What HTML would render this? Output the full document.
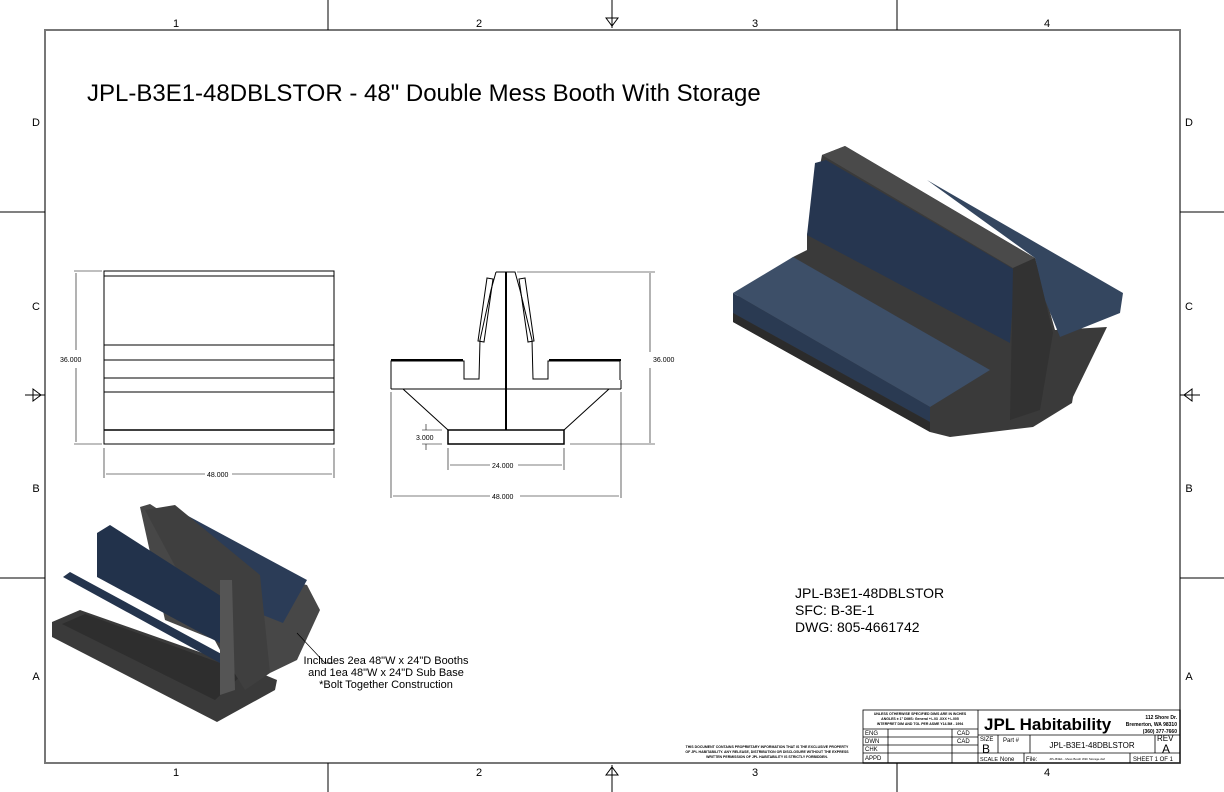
<!DOCTYPE html>
<html><head><meta charset="utf-8"><style>
html,body{margin:0;padding:0;background:#fff}
svg{display:block}
text{font-family:"Liberation Sans",sans-serif}
</style></head><body>
<svg width="1224" height="792" viewBox="0 0 1224 792" xmlns="http://www.w3.org/2000/svg">
<rect x="0" y="0" width="1224" height="792" fill="#fff"/>
<rect x="45" y="30" width="1135" height="733" fill="none" stroke="#777" stroke-width="2"/>
<g stroke="#000" stroke-width="1">
<line x1="328" y1="0" x2="328" y2="30"/><line x1="897" y1="0" x2="897" y2="30"/>
<line x1="328" y1="763" x2="328" y2="792"/><line x1="897" y1="763" x2="897" y2="792"/>
<line x1="612" y1="0" x2="612" y2="28"/><line x1="612" y1="765" x2="612" y2="792"/>
<line x1="0" y1="212" x2="45" y2="212"/><line x1="0" y1="578" x2="45" y2="578"/>
<line x1="1180" y1="212" x2="1224" y2="212"/><line x1="1180" y1="578" x2="1224" y2="578"/>
<line x1="25" y1="395" x2="45" y2="395"/><line x1="1180" y1="395" x2="1200" y2="395"/>
</g>
<g fill="none" stroke="#000"><path d="M606 18 L612 26 L618 18 Z"/><path d="M606 775 L612 767 L618 775 Z"/>
<path d="M33 389 L41 395 L33 401 Z"/><path d="M1192 389 L1184 395 L1192 401 Z"/></g>
<g font-size="11" fill="#000" text-anchor="middle">
<text x="176" y="27">1</text><text x="479" y="27">2</text><text x="755" y="27">3</text><text x="1047" y="27">4</text>
<text x="176" y="776">1</text><text x="479" y="776">2</text><text x="755" y="776">3</text><text x="1047" y="776">4</text>
<text x="36" y="126">D</text><text x="36" y="310">C</text><text x="36" y="492">B</text><text x="36" y="680">A</text>
<text x="1189" y="126">D</text><text x="1189" y="310">C</text><text x="1189" y="492">B</text><text x="1189" y="680">A</text>
</g>
<text x="87" y="101" font-size="24">JPL-B3E1-48DBLSTOR - 48" Double Mess Booth With Storage</text>

<g stroke="#000" fill="none" stroke-width="1">
<rect x="104" y="271" width="230" height="173"/>
<line x1="104" y1="276" x2="334" y2="276"/>
<line x1="104" y1="345" x2="334" y2="345"/>
<line x1="104" y1="360" x2="334" y2="360"/>
<line x1="104" y1="378" x2="334" y2="378"/>
<line x1="104" y1="392" x2="334" y2="392"/>
<line x1="104" y1="430" x2="334" y2="430" stroke-width="1.5"/>
</g>
<g stroke="#000" stroke-width="0.6" fill="none">
<line x1="74" y1="271" x2="102" y2="271"/><line x1="74" y1="444" x2="102" y2="444"/>
<line x1="76" y1="273" x2="76" y2="350"/><line x1="76" y1="368" x2="76" y2="442"/>
<line x1="104" y1="448" x2="104" y2="478"/><line x1="334" y1="448" x2="334" y2="478"/>
<line x1="106" y1="474" x2="205" y2="474"/><line x1="232" y1="474" x2="332" y2="474"/>
</g>
<text x="60" y="362" font-size="7">36.000</text>
<text x="207" y="477" font-size="7">48.000</text>

<g stroke="#000" fill="none" stroke-width="1">
<path d="M496 272 L515 272 L520 290 L532 340 L533 379 L548 379 L548 361 L620 361 L620 380"/>
<path d="M496 272 L491 290 L480 340 L479 379 L464 379 L464 361 L391 361 L391 380"/>
<line x1="391" y1="360" x2="463" y2="360" stroke-width="2"/><line x1="549" y1="360" x2="621" y2="360" stroke-width="2"/>
<line x1="391" y1="389" x2="621" y2="389"/>
<line x1="391" y1="380" x2="391" y2="389"/><line x1="621" y1="380" x2="621" y2="389"/>
<path d="M403 389 L448 430 M609 389 L564 430"/>
<rect x="448" y="430" width="116" height="14" stroke-width="1.5"/>
<line x1="506" y1="272" x2="506" y2="430" stroke-width="2"/>
<path d="M487 278 L493 279 L484 342 L478 341 Z"/>
<path d="M525 278 L519 279 L528 342 L534 341 Z"/>
</g>
<g stroke="#000" stroke-width="0.6" fill="none">
<line x1="517" y1="272" x2="655" y2="272"/><line x1="570" y1="444" x2="655" y2="444"/>
<line x1="650" y1="273" x2="650" y2="352"/><line x1="650" y1="368" x2="650" y2="443"/>
<line x1="448" y1="448" x2="448" y2="470"/><line x1="564" y1="448" x2="564" y2="470"/>
<line x1="450" y1="465" x2="490" y2="465"/><line x1="518" y1="465" x2="562" y2="465"/>
<line x1="391" y1="392" x2="391" y2="498"/><line x1="621" y1="392" x2="621" y2="498"/>
<line x1="393" y1="496" x2="490" y2="496"/><line x1="520" y1="496" x2="619" y2="496"/>
<line x1="422" y1="430" x2="442" y2="430"/><line x1="422" y1="444" x2="442" y2="444"/>
<line x1="426" y1="424" x2="426" y2="430"/><line x1="426" y1="444" x2="426" y2="450"/>
</g>
<text x="653" y="362" font-size="7">36.000</text>
<text x="492" y="468" font-size="7">24.000</text>
<text x="492" y="499" font-size="7">48.000</text>
<text x="416" y="440" font-size="7">3.000</text>

<g>
<polygon points="807,235 822,155 845,146 1035,258 1055,330 1107,327 1073,397 1072,403 1033,427 950,437 930,432 733,322 733,300 793,257 807,250" fill="#3a3a3a"/>
<polygon points="927,180 1123,293 1120,313 1060,337 1045,300 1035,258" fill="#34465f"/>
<polygon points="822,155 845,146 1035,258 1013,268" fill="#4a4a4a"/>
<polygon points="815,163 826,160 1015,270 1010,343 807,235" fill="#263650"/>
<polygon points="1013,268 1035,258 1053,333 1040,410 1010,420" fill="#323232"/>
<polygon points="733,293 793,257 990,370 930,407" fill="#3d4f68"/>
<polygon points="733,293 930,407 930,422 733,313" fill="#2a3a52"/>
<polygon points="733,313 930,422 930,432 733,322" fill="#2b2b2b"/>
</g>

<g>
<polygon points="52,622 80,610 265,675 277,680 275,690 217,722 52,637" fill="#3a3a3a"/>
<polygon points="62,624 85,614 245,672 215,700" fill="#2e2e2e"/>
<polygon points="140,507 150,504 260,575 307,585 320,610 297,660 270,673 252,655 165,620" fill="#474747"/>
<polygon points="177,510 307,580 283,623 200,590" fill="#2b3c57"/>
<polygon points="145,510 175,505 260,575 270,673 245,690 220,650" fill="#3f3f3f"/>
<polygon points="97,533 110,525 227,600 227,647 97,577" fill="#22324b"/>
<polygon points="63,577 70,572 227,657 220,663" fill="#24344d"/>
<polygon points="220,580 232,580 235,690 220,695" fill="#555"/>
</g>
<polyline points="297,633 325,663 333,663" fill="none" stroke="#000" stroke-width="0.7"/>
<g font-size="11" text-anchor="middle">
<text x="386" y="664">Includes 2ea 48"W x 24"D Booths</text>
<text x="386" y="676">and 1ea 48"W x 24"D Sub Base</text>
<text x="386" y="688">*Bolt Together Construction</text>
</g>
<g font-size="14">
<text x="795" y="598">JPL-B3E1-48DBLSTOR</text>
<text x="795" y="615">SFC:  B-3E-1</text>
<text x="795" y="632">DWG:  805-4661742</text>
</g>

<g stroke="#000" stroke-width="0.8" fill="none">
<rect x="863" y="710" width="317" height="53"/>
<line x1="978" y1="710" x2="978" y2="763"/>
<line x1="863" y1="729" x2="978" y2="729"/>
<line x1="863" y1="737" x2="978" y2="737"/>
<line x1="863" y1="745" x2="978" y2="745"/>
<line x1="863" y1="753" x2="978" y2="753"/>
<line x1="888" y1="729" x2="888" y2="763"/>
<line x1="952" y1="729" x2="952" y2="763"/>
<line x1="978" y1="735" x2="1180" y2="735"/>
<line x1="978" y1="753" x2="1180" y2="753"/>
<line x1="998" y1="735" x2="998" y2="753"/>
<line x1="1030" y1="735" x2="1030" y2="753"/>
<line x1="1155" y1="735" x2="1155" y2="753"/>
<line x1="1024" y1="753" x2="1024" y2="763"/>
<line x1="1130" y1="753" x2="1130" y2="763"/>
</g>
<g font-size="3.5" text-anchor="middle" font-weight="bold">
<text x="920" y="715">UNLESS OTHERWISE SPECIFIED DIMS ARE IN INCHES</text>
<text x="920" y="720">ANGLES ± 1°  DIMS: General +/-.03  .XXX +/-.005</text>
<text x="920" y="725">INTERPRET DIM AND TOL PER ASME Y14.5M - 1994</text>
<text x="767" y="748">THIS DOCUMENT CONTAINS PROPRIETARY INFORMATION THAT IS THE EXCLUSIVE PROPERTY</text>
<text x="767" y="753">OF JPL HABITABILITY.  ANY RELEASE, DISTRIBUTION OR DISCLOSURE WITHOUT THE EXPRESS</text>
<text x="767" y="758">WRITTEN PERMISSION OF JPL HABITABILITY IS STRICTLY FORBIDDEN.</text>
</g>
<g font-size="6">
<text x="865" y="735">ENG</text><text x="865" y="743">DWN</text><text x="865" y="751">CHK</text><text x="865" y="760">APPD</text>
<text x="957" y="735">CAD</text><text x="957" y="743">CAD</text>
<text x="980" y="741">SIZE</text><text x="1003" y="742">Part #</text>
<text x="980" y="761" font-size="5.5">SCALE</text><text x="1000" y="761">None</text><text x="1026" y="761">File:</text>
<text x="1133" y="761">SHEET 1 OF 1</text>
<text x="1157" y="741" font-size="8">REV</text>
</g>
<text x="982" y="753" font-size="12">B</text>
<text x="1162" y="753" font-size="12">A</text>
<text x="1092" y="748" font-size="8" text-anchor="middle">JPL-B3E1-48DBLSTOR</text>
<text x="1077" y="760" font-size="3" text-anchor="middle">JPL-B3E1 - Mess Booth With Storage.dwf</text>
<text x="984" y="730" font-size="17" font-weight="bold">JPL Habitability</text>
<g font-size="5" font-weight="bold" text-anchor="end"><text x="1177" y="719">112  Shore Dr.</text><text x="1177" y="726">Bremerton, WA 98310</text><text x="1177" y="733">(360) 377-7660</text></g>
</svg>
</body></html>
